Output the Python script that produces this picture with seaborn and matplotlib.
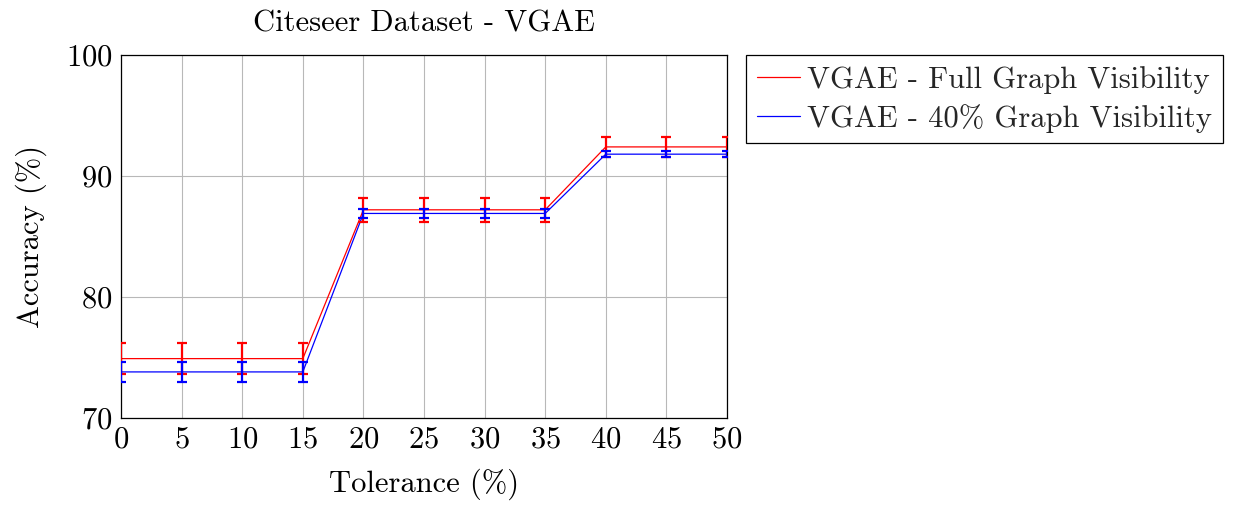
import matplotlib
matplotlib.use("Agg")
import matplotlib.pyplot as plt
import seaborn as sns
import pandas as pd

tolerance = [0, 5, 10, 15, 20, 25, 30, 35, 40, 45, 50]
full_acc = [74.9, 74.9, 74.9, 74.9, 87.2, 87.2, 87.2, 87.2, 92.4, 92.4, 92.4]
full_err = [1.25, 1.25, 1.25, 1.25, 1.0, 1.0, 1.0, 1.0, 0.8, 0.8, 0.8]
part_acc = [73.8, 73.8, 73.8, 73.8, 86.9, 86.9, 86.9, 86.9, 91.8, 91.8, 91.8]
part_err = [0.8, 0.8, 0.8, 0.8, 0.37, 0.37, 0.37, 0.37, 0.25, 0.25, 0.25]
labels = ["VGAE - Full Graph Visibility", "VGAE - 40% Graph Visibility"]

sns.set_theme(style="whitegrid")
plt.rcParams["font.family"] = ["cmr10", "DejaVu Serif"]
plt.rcParams["mathtext.fontset"] = "cm"
plt.rcParams["axes.formatter.use_mathtext"] = True

df = pd.DataFrame({
    "tol": tolerance * 2,
    "acc": full_acc + part_acc,
    "series": [labels[0]] * len(tolerance) + [labels[1]] * len(tolerance),
})

fig = plt.figure(figsize=(12.48, 5.09), dpi=100)
ax = fig.add_axes([0.097, 0.179, 0.4855, 0.713])

colors = {labels[0]: "#ff0000", labels[1]: "#0000ff"}
sns.lineplot(data=df, x="tol", y="acc", hue="series", palette=colors,
             linewidth=0.9, ax=ax, legend=True)

ax.errorbar(tolerance, full_acc, yerr=full_err, fmt="none", ecolor="#ff0000",
            elinewidth=1.6, capsize=3.5, capthick=1.6, zorder=3)
ax.errorbar(tolerance, part_acc, yerr=part_err, fmt="none", ecolor="#0000ff",
            elinewidth=1.6, capsize=3.5, capthick=1.6, zorder=4)

ax.set_xlim(0, 50)
ax.set_ylim(70, 100)
ax.set_xticks(tolerance)
ax.set_yticks([70, 80, 90, 100])
ax.set_facecolor("white")
ax.grid(True, color="#b8b8b8", linewidth=0.8)
for s in ax.spines.values():
    s.set_edgecolor("black")
    s.set_linewidth(0.9)
ax.tick_params(axis="both", labelsize=22, colors="black", length=4, direction="in",
               pad=6)
ax.tick_params(axis="both", labelcolor="black")

ax.set_xlabel("Tolerance (%)", fontsize=22, color="black", labelpad=11)
ax.set_ylabel("Accuracy (%)", fontsize=22, color="black", labelpad=14)
ax.set_title("Citeseer Dataset - VGAE", fontsize=22, color="black", pad=17)

leg = ax.legend(loc="upper left", bbox_to_anchor=(1.032, 1.0), fontsize=22,
                frameon=True, fancybox=False, edgecolor="black", framealpha=1,
                handlelength=1.4, handletextpad=0.25, borderpad=0.35,
                labelspacing=0.33, borderaxespad=0)
leg.get_frame().set_linewidth(0.9)

fig.savefig("out.png", dpi=100)
